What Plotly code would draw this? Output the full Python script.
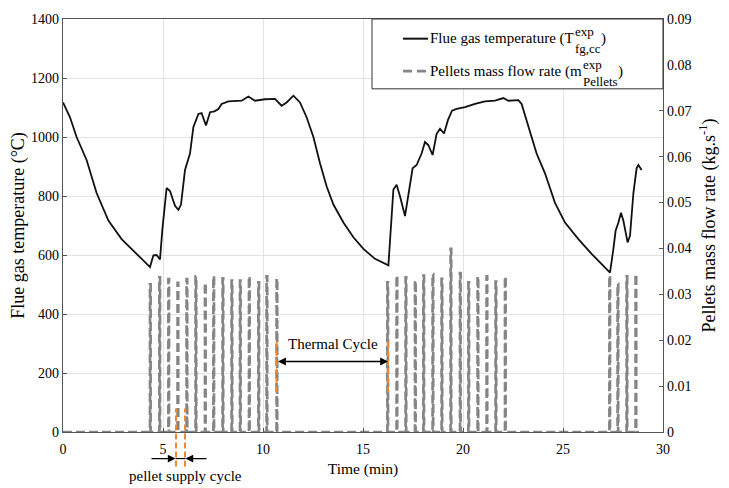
import plotly.graph_objects as go

# ---------------- data ----------------
temp_time = [0.0, 0.35, 0.68, 1.18, 1.68, 2.27, 2.93, 3.77, 4.35, 4.52, 4.68, 4.85, 4.97, 5.18, 5.35,
             5.6, 5.77, 5.9, 6.1, 6.35, 6.52, 6.77, 6.93, 7.15, 7.35, 7.57, 7.77, 7.93, 8.27, 8.93,
             9.27, 9.6, 10.1, 10.6, 10.93, 11.18, 11.52, 11.85, 12.18, 12.52, 12.85, 13.18, 13.52,
             14.02, 14.52, 15.02, 15.6, 16.27, 16.38, 16.52, 16.68, 16.85, 17.1, 17.27, 17.48, 17.68,
             17.93, 18.1, 18.27, 18.48, 18.68, 18.85, 19.05, 19.25, 19.45, 19.68, 20.1, 20.6, 21.1,
             21.6, 22.02, 22.27, 22.77, 22.93, 23.27, 23.68, 24.1, 24.6, 25.1, 25.77, 26.43, 26.93,
             27.35, 27.52, 27.63, 27.77, 27.9, 28.02, 28.23, 28.35, 28.52, 28.68, 28.77, 28.93]
temp_values = [1117, 1067, 1000, 922, 810, 717, 654, 598, 559, 599, 600, 585, 688, 827, 817,
               767, 753, 771, 888, 944, 1034, 1078, 1081, 1039, 1084, 1087, 1095, 1112, 1121, 1123,
               1137, 1123, 1128, 1129, 1106, 1117, 1140, 1117, 1067, 1000, 911, 833, 771,
               710, 660, 621, 587, 565, 665, 822, 838, 799, 732, 810, 894, 905,
               944, 983, 972, 939, 1011, 1028, 1012, 1058, 1089, 1095, 1101, 1112, 1121,
               1123, 1132, 1123, 1125, 1112, 1034, 944, 877, 777, 710, 654, 604, 570,
               540, 621, 682, 710, 743, 716, 643, 665, 810, 894, 905, 888]

pulse_times = [4.35, 4.82, 5.27, 5.73, 6.18, 6.63, 7.10, 7.52, 7.98, 8.43, 8.85, 9.30, 9.77, 10.18, 10.68,
               16.22, 16.68, 17.13, 17.60, 18.02, 18.48, 18.93, 19.38, 19.85, 20.27, 20.73, 21.18, 21.63, 22.10,
               27.32, 27.73, 28.18, 28.63]
pulse_rates = [0.0322, 0.0337, 0.0333, 0.0325, 0.0333, 0.0339, 0.0325, 0.0340, 0.0335, 0.0330, 0.0330, 0.0339,
               0.0326, 0.0339, 0.0335,
               0.0326, 0.0341, 0.0337, 0.0330, 0.0341, 0.0344, 0.0334, 0.0399, 0.0346, 0.0326, 0.0339, 0.0339,
               0.0328, 0.0339,
               0.0341, 0.0323, 0.0339, 0.0344]
pellet_start, pellet_end = 0.0, 28.8

x_ticks = [0, 5, 10, 15, 20, 25, 30]
y_ticks = [0, 200, 400, 600, 800, 1000, 1200, 1400]
y2_ticks = [0, 0.01, 0.02, 0.03, 0.04, 0.05, 0.06, 0.07, 0.08, 0.09]
y2_labels = ["0", "0.01", "0.02", "0.03", "0.04", "0.05", "0.06", "0.07", "0.08", "0.09"]

# ---------------- build pulse path ----------------
PW = 0.03
px_, py_ = [pellet_start], [0.0]
for t, h in zip(pulse_times, pulse_rates):
    px_ += [t, t, t + PW, t + PW]
    py_ += [0.0, h, h, 0.0]
px_.append(pellet_end)
py_.append(0.0)

FONT = "Liberation Serif, Times New Roman, serif"
GRAY = "#858585"
ORANGE = "#F0892E"

L, R, T, B = 63, 66, 12, 56
W, H = 729, 488
PWD, PHT = W - L - R, H - T - B


def fx(p):
    return (p - L) / PWD


def fy(p):
    return (H - B - p) / PHT


fig = go.Figure()
fig.add_trace(go.Scatter(x=px_, y=py_, yaxis="y2", mode="lines",
                         line=dict(color=GRAY, width=2.7, dash="9px,4px"),
                         showlegend=False, hoverinfo="skip"))
fig.add_trace(go.Scatter(x=temp_time, y=temp_values, mode="lines",
                         line=dict(color="#111111", width=1.8),
                         showlegend=False))

shapes = []
for xv in (10.68, 16.25):
    shapes.append(dict(type="line", xref="x", yref="y", x0=xv, x1=xv, y0=134, y1=318,
                       line=dict(color=ORANGE, width=2, dash="6px,3px")))
for xv in (5.65, 6.1):
    shapes.append(dict(type="line", xref="x", yref="paper", x0=xv, x1=xv, y0=fy(467), y1=fy(408),
                       line=dict(color=ORANGE, width=2, dash="6px,3px")))
shapes.append(dict(type="line", xref="x", yref="paper", x0=5.63, x1=6.12, y0=fy(459), y1=fy(459),
                   line=dict(color="black", width=1.2)))
# legend box
shapes.append(dict(type="rect", xref="paper", yref="paper", x0=fx(372), x1=1.0, y0=fy(83), y1=1.0,
                   line=dict(color="#333333", width=1), fillcolor="white", layer="above"))
shapes.append(dict(type="line", xref="paper", yref="paper", x0=fx(403), x1=fx(428), y0=fy(32), y1=fy(32),
                   line=dict(color="#111111", width=2), layer="above"))
shapes.append(dict(type="line", xref="paper", yref="paper", x0=fx(403), x1=fx(428), y0=fy(65), y1=fy(65),
                   line=dict(color=GRAY, width=2.7, dash="9px,5px"), layer="above"))

ann = []


def txt(text, x, y, size=15, xanchor="left", xref="paper", yref="paper", align="left"):
    ann.append(dict(text=text, x=x, y=y, xref=xref, yref=yref, xanchor=xanchor, yanchor="middle",
                    showarrow=False, align=align, borderpad=0, borderwidth=0,
                    font=dict(family=FONT, size=size, color="black")))


txt("Flue gas temperature (T", fx(430), fy(32))
txt("exp<br>fg,cc", fx(575), fy(33.5), size=13)
txt(")", fx(601), fy(32))
txt("Pellets mass flow rate (m", fx(430), fy(65))
txt("exp<br>Pellets", fx(583), fy(66.5), size=13)
txt(")", fx(618), fy(65))

txt("Thermal Cycle", 13.5, 298, xanchor="center", xref="x", yref="y")
txt("pellet supply cycle", 6.1, fy(477), xanchor="center", xref="x")

ann.append(dict(x=16.25, y=239, ax=10.68, ay=239, xref="x", yref="y", axref="x", ayref="y",
                text="", showarrow=True, arrowhead=2, startarrowhead=2, arrowside="end+start",
                arrowsize=1.2, startarrowsize=1.2, arrowwidth=1.3, arrowcolor="black",
                standoff=0, startstandoff=0))
ann.append(dict(x=5.63, y=fy(459), ax=4.35, ay=0, xref="x", yref="paper", axref="x", ayref="pixel",
                text="", showarrow=True, arrowhead=2, arrowsize=1.2, arrowwidth=1.3, arrowcolor="black",
                standoff=0))
ann.append(dict(x=6.12, y=fy(459), ax=7.25, ay=0, xref="x", yref="paper", axref="x", ayref="pixel",
                text="", showarrow=True, arrowhead=2, arrowsize=1.2, arrowwidth=1.3, arrowcolor="black",
                standoff=0))

axis_common = dict(showline=True, linecolor="#555555", linewidth=1.3, ticks="inside", ticklen=4,
                   tickcolor="#555555", tickfont=dict(family=FONT, size=14, color="black"), zeroline=False)

fig.update_layout(
    width=W, height=H, margin=dict(l=L, r=R, t=T, b=B),
    paper_bgcolor="white", plot_bgcolor="white",
    font=dict(family=FONT, color="black"),
    shapes=shapes, annotations=ann, showlegend=False,
    xaxis=dict(range=[0, 30], tickvals=x_ticks, showgrid=True, gridcolor="#e3e3e3", gridwidth=1,
               mirror=True, ticklabelstandoff=4,
               title=dict(text="Time (min)", font=dict(family=FONT, size=15.5), standoff=7),
               **axis_common),
    yaxis=dict(range=[0, 1400], tickvals=y_ticks, showgrid=True, gridcolor="#e3e3e3", gridwidth=1,
               title=dict(text="Flue gas temperature (°C)", font=dict(family=FONT, size=18), standoff=1),
               **axis_common),
    yaxis2=dict(range=[0, 0.09], tickmode="array", tickvals=y2_ticks, ticktext=y2_labels,
                overlaying="y", side="right", showgrid=False,
                title=dict(text="Pellets mass flow rate (kg.s<sup>-1</sup>)", font=dict(family=FONT, size=18),
                           standoff=11),
                **axis_common),
)

fig.write_html("out.html")
